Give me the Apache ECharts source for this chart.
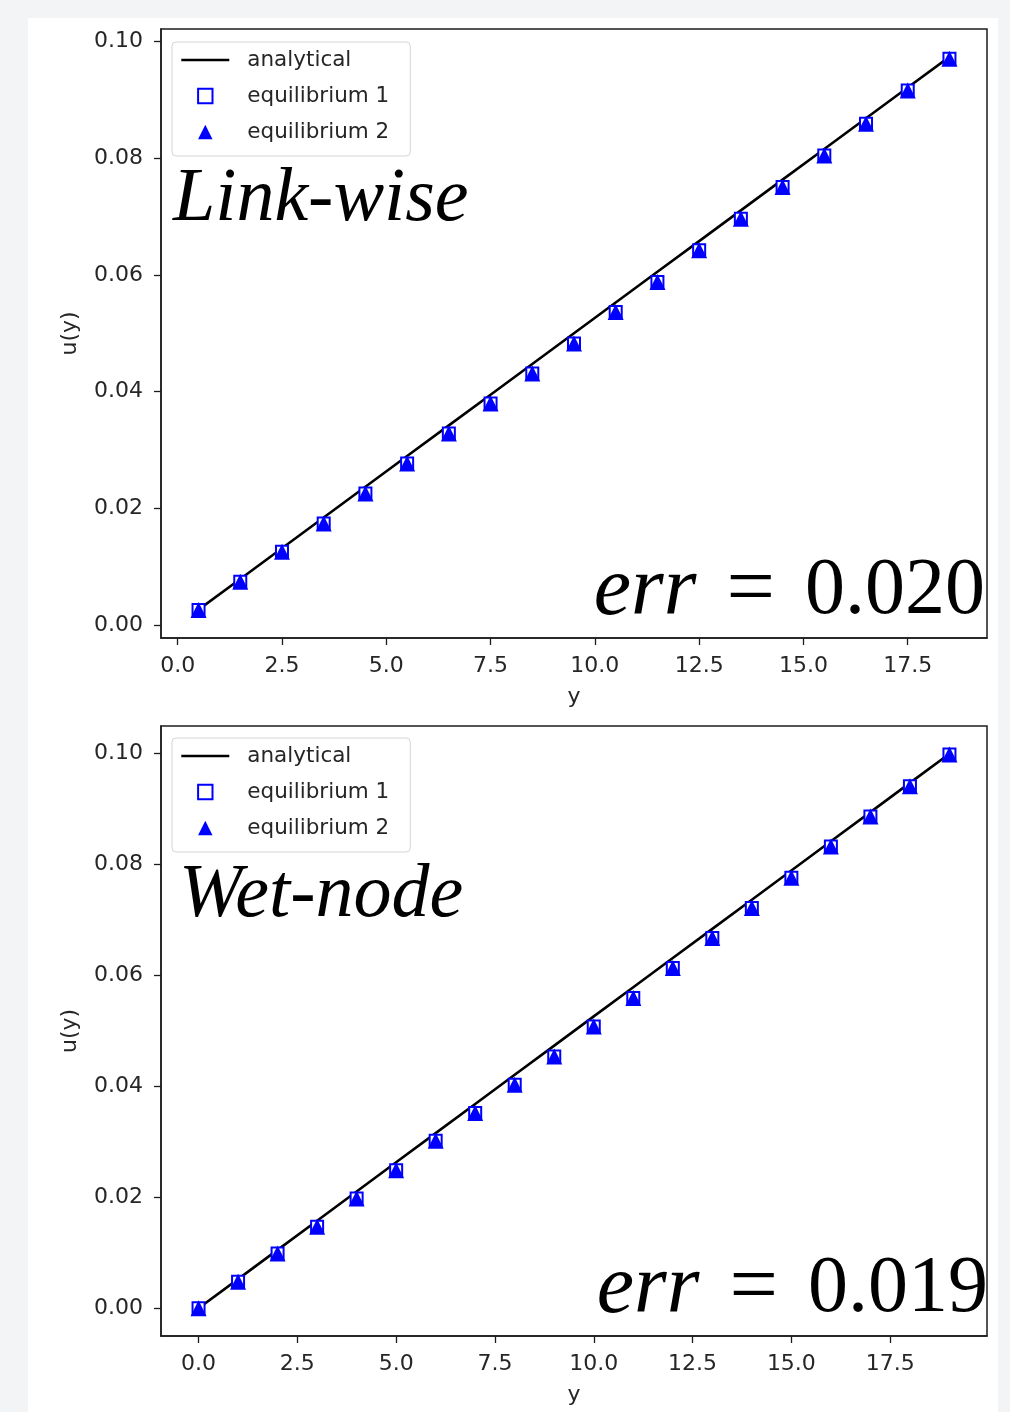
<!DOCTYPE html>
<html>
<head>
<meta charset="utf-8">
<script src="https://cdn.jsdelivr.net/npm/echarts@6/dist/echarts.min.js"></script>
<style>
  html, body { margin: 0; padding: 0; background: #f3f4f6; }
  #panel { position: absolute; left: 28px; top: 18px; width: 970px; height: 1394px; background: #ffffff; }
  #chart { position: absolute; left: 0; top: 0; width: 1010px; height: 1412px; }
</style>
</head>
<body>
<div id="panel"></div>
<div id="chart"></div>
<script>
// ---------- data ----------
const yLink = [0.5, 1.5, 2.5, 3.5, 4.5, 5.5, 6.5, 7.5, 8.5, 9.5, 10.5, 11.5, 12.5, 13.5, 14.5, 15.5, 16.5, 17.5, 18.5];
const analyticalLink = [0.00263, 0.00789, 0.01316, 0.01842, 0.02368, 0.02895, 0.03421, 0.03947, 0.04474, 0.05, 0.05526, 0.06053, 0.06579, 0.07105, 0.07632, 0.08158, 0.08684, 0.09211, 0.09737];
const eq1Link = [0.00257, 0.00742, 0.01256, 0.01741, 0.02255, 0.02768, 0.03282, 0.03796, 0.0431, 0.04823, 0.05365, 0.05879, 0.06421, 0.06964, 0.07506, 0.08048, 0.0859, 0.09161, 0.09703];
const eq2Link = [0.00257, 0.00742, 0.01256, 0.01741, 0.02255, 0.02768, 0.03282, 0.03796, 0.0431, 0.04823, 0.05365, 0.05879, 0.06421, 0.06964, 0.07506, 0.08048, 0.0859, 0.09161, 0.09703];

const yWet = [0, 1, 2, 3, 4, 5, 6, 7, 8, 9, 10, 11, 12, 13, 14, 15, 16, 17, 18, 19];
const analyticalWet = [0, 0.00526, 0.01053, 0.01579, 0.02105, 0.02632, 0.03158, 0.03684, 0.04211, 0.04737, 0.05263, 0.05789, 0.06316, 0.06842, 0.07368, 0.07895, 0.08421, 0.08947, 0.09474, 0.1];
const eq1Wet = [0, 0.0048, 0.00986, 0.01468, 0.01978, 0.02491, 0.0302, 0.0352, 0.0403, 0.04542, 0.05083, 0.05596, 0.06137, 0.06679, 0.0722, 0.07762, 0.08327, 0.08868, 0.09415, 0.09987];
const eq2Wet = [0, 0.0048, 0.00986, 0.01468, 0.01978, 0.02491, 0.0302, 0.0352, 0.0403, 0.04542, 0.05083, 0.05596, 0.06137, 0.06679, 0.0722, 0.07762, 0.08327, 0.08868, 0.09415, 0.09987];

const xTicks = [0, 2.5, 5, 7.5, 10, 12.5, 15, 17.5];
const yTicks = [0, 0.02, 0.04, 0.06, 0.08, 0.10];
const panelNames = ['Link-wise', 'Wet-node'];
const errTexts = ['0.020', '0.019'];
const seriesNames = ['analytical', 'equilibrium 1', 'equilibrium 2'];

// ---------- helpers ----------
const pairs = (xs, ys) => xs.map((x, i) => [x, ys[i]]);
const INK = '#1c1c1c';
const tickFont = { fontFamily: 'DejaVu Sans', fontSize: 22, color: '#262626' };

function xAxisCfg(gridIndex, min, max) {
  return {
    type: 'value', gridIndex, min, max,
    name: 'y', nameLocation: 'middle', nameGap: 48,
    nameTextStyle: Object.assign({}, tickFont),
    splitLine: { show: false },
    axisLine: { show: true, onZero: false, lineStyle: { color: INK, width: 1.5 } },
    axisTick: { show: true, length: 7, lineStyle: { color: INK, width: 1.3 }, customValues: xTicks },
    axisLabel: Object.assign({ margin: 17, customValues: xTicks, formatter: v => v.toFixed(1) }, tickFont)
  };
}
function yAxisCfg(gridIndex, min, max) {
  return {
    type: 'value', gridIndex, min, max,
    name: 'u(y)', nameLocation: 'middle', nameGap: 80, nameRotate: 90,
    nameTextStyle: Object.assign({}, tickFont),
    splitLine: { show: false },
    axisLine: { show: true, onZero: false, lineStyle: { color: INK, width: 1.5 } },
    axisTick: { show: true, length: 7, lineStyle: { color: INK, width: 1.3 }, customValues: yTicks },
    axisLabel: Object.assign({ margin: 18, customValues: yTicks, formatter: v => v.toFixed(2) }, tickFont)
  };
}
function seriesFor(idx, xs, an, e1, e2) {
  return [
    { name: seriesNames[0], type: 'line', xAxisIndex: idx, yAxisIndex: idx, data: pairs(xs, an),
      symbol: 'none', lineStyle: { color: '#000', width: 2.6 }, itemStyle: { color: '#000' }, z: 2, silent: true },
    { name: seriesNames[1], type: 'line', xAxisIndex: idx, yAxisIndex: idx, data: pairs(xs, e1),
      symbol: 'emptyRect', symbolSize: 12, showSymbol: true,
      lineStyle: { width: 0, opacity: 0 }, itemStyle: { color: '#0000ff', borderWidth: 3 }, z: 3, silent: true },
    { name: seriesNames[2], type: 'line', xAxisIndex: idx, yAxisIndex: idx, data: pairs(xs, e2),
      symbol: 'triangle', symbolSize: 16, showSymbol: true,
      lineStyle: { width: 0, opacity: 0 }, itemStyle: { color: '#0000ff' }, z: 4, silent: true }
  ];
}
function legendCfg(top) {
  return {
    orient: 'vertical', left: 172, top,
    padding: [7, 21, 13, 8],
    itemWidth: 48, itemHeight: 18, itemGap: 14,
    backgroundColor: 'rgba(255,255,255,0.8)',
    borderColor: '#d4d4d4', borderWidth: 1, borderRadius: 4,
    selectedMode: false,
    textStyle: { fontFamily: 'DejaVu Sans', fontSize: 21.5, color: '#262626', padding: [0, 0, 0, 13] },
    data: [
      { name: seriesNames[0], itemStyle: { opacity: 0 }, lineStyle: { width: 2.6, color: '#000' } },
      seriesNames[1],
      seriesNames[2]
    ]
  };
}
const titleFont = { fontFamily: 'Liberation Serif', fontStyle: 'italic', fontWeight: 'normal', fontSize: 76, color: '#000' };
function errTitle(val, right, top) {
  const base = { fontFamily: 'Liberation Serif', fontWeight: 'normal', fontSize: 80, color: '#000' };
  return {
    text: '{e|err}{q|=}{n|' + val + '}', right, top, padding: 0,
    textStyle: {
      fontWeight: 'normal', fontFamily: 'Liberation Serif', fontSize: 80, color: '#000',
      rich: {
        e: Object.assign({}, base, { fontStyle: 'italic', fontSize: 84 }),
        q: Object.assign({}, base, { fontSize: 86, padding: [0, 30, 0, 30] }),
        n: Object.assign({}, base)
      }
    }
  };
}

const option = {
  animation: false,
  backgroundColor: 'transparent',
  title: [
    { text: panelNames[0], left: 173, top: 162, padding: 0, textStyle: titleFont },
    { text: panelNames[1], left: 179, top: 858, padding: 0, textStyle: titleFont },
    errTitle(errTexts[0], 25, 549),
    errTitle(errTexts[1], 22, 1247)
  ],
  legend: [legendCfg(42), legendCfg(738)],
  grid: [
    { left: 161, top: 29, width: 826, height: 609, show: true, borderColor: INK, borderWidth: 1.5, backgroundColor: 'transparent' },
    { left: 161, top: 726, width: 826, height: 610, show: true, borderColor: INK, borderWidth: 1.5, backgroundColor: 'transparent' }
  ],
  xAxis: [xAxisCfg(0, -0.4, 19.4), xAxisCfg(1, -0.95, 19.95)],
  yAxis: [yAxisCfg(0, -0.00223, 0.10214), yAxisCfg(1, -0.005, 0.105)],
  series: [].concat(
    seriesFor(0, yLink, analyticalLink, eq1Link, eq2Link),
    seriesFor(1, yWet, analyticalWet, eq1Wet, eq2Wet)
  )
};

const chart = echarts.init(document.getElementById('chart'), null, { renderer: 'canvas' });
chart.setOption(option);
</script>
</body>
</html>
